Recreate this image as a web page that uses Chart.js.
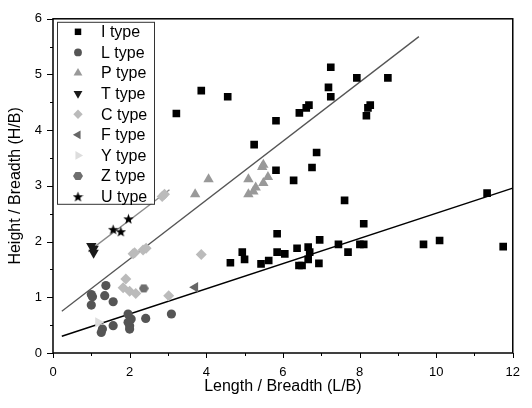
<!DOCTYPE html>
<html>
<head>
<meta charset="utf-8">
<script src="https://cdn.jsdelivr.net/npm/chart.js@4.4.0/dist/chart.umd.min.js"></script>
<style>
  html, body { margin: 0; padding: 0; background: #fff; }
</style>
</head>
<body>
<canvas id="chart" width="532" height="408"></canvas>
<script>
// series values (L/B on x, H/B on y)
const iX = [3.87, 4.56, 3.22, 5.25, 7.25, 7.93, 8.74, 7.19, 7.25, 6.68, 6.61, 6.43, 8.28, 8.22, 8.18, 5.82, 6.88, 6.76, 5.82, 6.28,
            7.61, 8.11, 5.85, 6.96, 7.45, 8.01, 8.11, 7.70, 6.37, 6.66, 6.70, 6.66, 6.94, 6.42, 6.50, 5.85, 6.05, 4.94, 5.00, 4.63,
            5.43, 5.63, 11.33, 9.67, 10.09, 11.75]
const iY = [4.71, 4.60, 4.30, 3.74, 5.13, 4.94, 4.94, 4.77, 4.60, 4.45, 4.40, 4.31, 4.45, 4.40, 4.26, 4.17, 3.60, 3.33, 3.28, 3.10,
            2.74, 2.32, 2.14, 2.03, 1.95, 1.95, 1.95, 1.81, 1.88, 1.90, 1.81, 1.68, 1.61, 1.57, 1.57, 1.81, 1.78, 1.81, 1.68, 1.62,
            1.60, 1.66, 2.87, 1.95, 2.02, 1.91]
const lX = [1.38, 1.00, 1.03, 1.35, 1.57, 1.00, 1.96, 2.04, 2.42, 3.09, 2.00, 2.00, 1.96, 1.57, 1.29, 1.26]
const lY = [1.21, 1.05, 1.01, 1.03, 0.92, 0.86, 0.70, 0.61, 0.62, 0.70, 0.49, 0.43, 0.55, 0.49, 0.43, 0.37]
const pX = [3.71, 4.06, 5.10, 5.23, 5.29, 5.49, 5.10, 5.61, 5.46, 5.49]
const pY = [2.85, 3.12, 2.85, 2.90, 2.97, 3.05, 3.12, 3.16, 3.34, 3.38]
const tX = [1.00, 1.06, 1.06]
const tY = [1.92, 1.87, 1.80]
const cX = [2.85, 2.91, 2.09, 2.13, 2.35, 2.43, 3.87, 1.90, 1.83, 2.00, 2.16, 3.02]
const cY = [2.81, 2.85, 1.78, 1.80, 1.85, 1.88, 1.77, 1.33, 1.17, 1.11, 1.07, 1.03]
const fX = [3.71]
const fY = [1.18]
const yX = [1.18]
const yY = [0.55]
const zX = [2.37]
const zY = [1.16]
const uX = [1.97, 1.57, 1.77]
const uY = [2.41, 2.22, 2.18]

// fitted lines, end points
const fitLowX = [0.23, 12]
const fitLowY = [0.30, 2.96]
const fitHighX = [0.23, 9.55]
const fitHighY = [0.75, 5.68]
const fitUTX = [0.92, 3.04]
const fitUTY = [1.82, 2.93]

const xTicks = [0, 2, 4, 6, 8, 10, 12]
const yTicks = [0, 1, 2, 3, 4, 5, 6]

function pts(xs, ys) {
    return xs.map((v, i) => ({x: v, y: ys[i]}))
}

//filled star and hexagon markers
function makeStar(size, color) {
    let c = document.createElement('canvas')
    c.width = c.height = size
    let g = c.getContext('2d')
    g.fillStyle = color
    g.beginPath()
    for (let i = 0; i < 10; i++) {
        let r = i % 2 ? size * 0.21 : size / 2
        let a = -Math.PI / 2 + i * Math.PI / 5
        g.lineTo(size / 2 + r * Math.cos(a), size / 2 + 0.5 + r * Math.sin(a))
    }
    g.closePath()
    g.fill()
    return c
}
function makeHex(size, color) {
    let c = document.createElement('canvas')
    c.width = c.height = size
    let g = c.getContext('2d')
    g.fillStyle = color
    g.beginPath()
    for (let i = 0; i < 6; i++) {
        let a = i * Math.PI / 3
        g.lineTo(size / 2 + (size / 2) * Math.cos(a), size / 2 + (size / 2 - 0.5) * Math.sin(a))
    }
    g.closePath()
    g.fill()
    return c
}

const star = makeStar(11, '#000')
const hex = makeHex(10, '#6e6e6e')

function series(label, xs, ys, style, color, radius, rotation) {
    return {
        label: label,
        data: pts(xs, ys),
        pointStyle: style,
        pointRotation: rotation || 0,
        pointRadius: radius,
        pointHoverRadius: radius,
        backgroundColor: color,
        borderColor: color,
        borderWidth: 0,
        showLine: false
    }
}
function fit(xs, ys, color, width) {
    return {
        label: '',
        isFit: true,
        data: pts(xs, ys),
        showLine: true,
        pointRadius: 0,
        borderColor: color,
        borderWidth: width,
        fill: false
    }
}

const typeSets = [
    series('I type', iX, iY, 'rect', '#000', 5.4),
    series('L type', lX, lY, 'circle', '#555', 4.6),
    series('P type', pX, pY, 'triangle', '#999', 6),
    series('T type', tX, tY, 'triangle', '#1a1a1a', 6, 180),
    series('C type', cX, cY, 'rectRot', '#bbb', 5.5),
    series('F type', fX, fY, 'triangle', '#666', 6, 270),
    series('Y type', yX, yY, 'triangle', '#ddd', 6, 90),
    series('Z type', zX, zY, hex, '#6e6e6e', 5),
    series('U type', uX, uY, star, '#000', 5.5)
]

const fitSets = [
    fit(fitLowX, fitLowY, '#000', 1.5),
    fit(fitHighX, fitHighY, '#555', 1.3),
    fit(fitUTX, fitUTY, '#8a8a8a', 1.3)
]

const fontFam = '"Liberation Sans", Arial, sans-serif'

//ticks outside, frame on all sides
const frameTicks = {
    id: 'frameTicks',
    afterDraw(chart) {
        const {ctx, chartArea: a, scales} = chart
        ctx.save()
        ctx.strokeStyle = '#000'
        ctx.lineWidth = 1
        scales.x.ticks.forEach(t => {
            let px = Math.round(scales.x.getPixelForValue(t.value)) + 0.5
            let len = xTicks.includes(t.value) ? 5 : 3
            ctx.beginPath()
            ctx.moveTo(px, a.bottom)
            ctx.lineTo(px, a.bottom + len)
            ctx.stroke()
        })
        scales.y.ticks.forEach(t => {
            let py = Math.round(scales.y.getPixelForValue(t.value)) + 0.5
            let len = yTicks.includes(t.value) ? 6 : 3
            ctx.beginPath()
            ctx.moveTo(a.left, py)
            ctx.lineTo(a.left - len, py)
            ctx.stroke()
        })
        ctx.lineWidth = 1.5
        ctx.strokeRect(a.left, a.top, a.right - a.left, a.bottom - a.top)
        ctx.restore()
    }
}

//legend drawn inside the plot, top left
const innerLegend = {
    id: 'innerLegend',
    afterDraw(chart) {
        const {ctx, chartArea: a} = chart
        let bx = a.left + 4, by = a.top + 3, bw = 97, bh = 182
        ctx.save()
        ctx.fillStyle = '#fff'
        ctx.fillRect(bx, by, bw, bh)
        ctx.strokeStyle = '#333'
        ctx.lineWidth = 1
        ctx.strokeRect(bx + 0.5, by + 0.5, bw, bh)
        ctx.font = '16px ' + fontFam
        ctx.textBaseline = 'middle'
        typeSets.forEach((ds, i) => {
            let cy = by + 10 + i * 20.6
            let opts = {
                pointStyle: ds.pointStyle,
                rotation: ds.pointRotation,
                radius: ds.pointRadius * 0.85,
                borderWidth: 0
            }
            ctx.fillStyle = ds.backgroundColor
            ctx.strokeStyle = ds.borderColor
            Chart.helpers.drawPoint(ctx, opts, bx + 21, cy)
            ctx.fillStyle = '#000'
            ctx.fillText(ds.label, bx + 44, cy + 1)
        })
        ctx.restore()
    }
}

let chart = new Chart(document.getElementById('chart').getContext('2d'), {
    type: 'scatter',
    data: {
        datasets: typeSets.concat(fitSets)
    },
    options: {
        responsive: false,
        animation: false,
        devicePixelRatio: 1,
        layout: { padding: { top: 12, right: 17, left: 0, bottom: 0 } },
        plugins: {
            legend: { display: false },
            tooltip: { enabled: false }
        },
        scales: {
            x: {
                min: 0, max: 12,
                afterFit: s => { s.height = 55 },
                grid: { display: false, drawTicks: false },
                border: { display: false },
                ticks: {
                    stepSize: 1,
                    autoSkip: false,
                    maxRotation: 0,
                    padding: 12,
                    color: '#000',
                    font: { family: fontFam, size: 13 },
                    callback: v => xTicks.includes(v) ? String(v) : ''
                },
                title: {
                    display: true,
                    text: 'Length / Breadth (L/B)',
                    color: '#000',
                    font: { family: fontFam, size: 16 },
                    padding: { top: 0, bottom: 12 }
                }
            },
            y: {
                min: 0, max: 6,
                afterFit: s => { s.width = 53 },
                grid: { display: false, drawTicks: false },
                border: { display: false },
                ticks: {
                    stepSize: 0.5,
                    autoSkip: false,
                    padding: 11,
                    color: '#000',
                    font: { family: fontFam, size: 13 },
                    callback: v => yTicks.includes(v) ? String(v) : ''
                },
                title: {
                    display: true,
                    text: 'Height / Breadth (H/B)',
                    color: '#000',
                    font: { family: fontFam, size: 16 },
                    padding: { top: 6, bottom: 0 }
                }
            }
        }
    },
    plugins: [frameTicks, innerLegend]
})
</script>
</body>
</html>
